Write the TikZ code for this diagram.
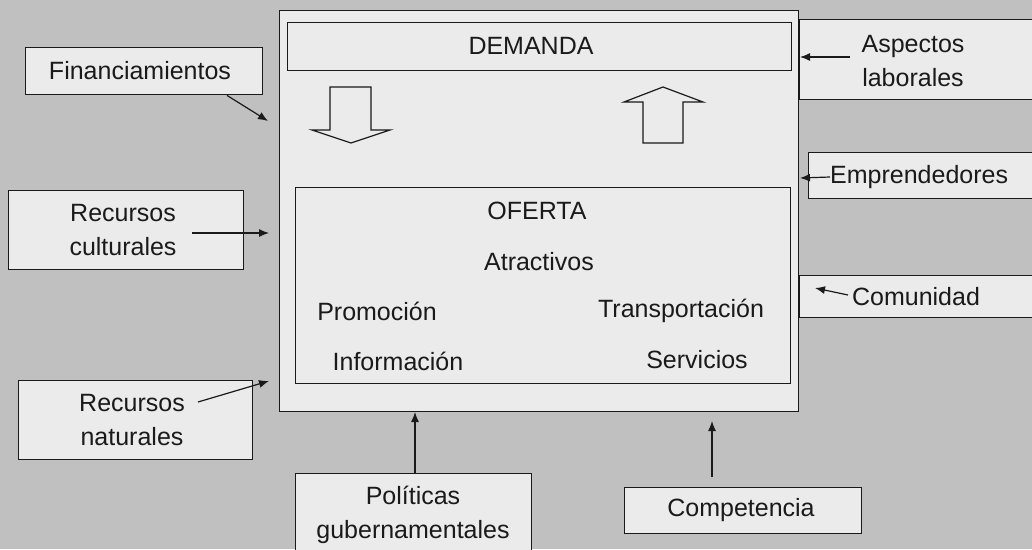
\documentclass[tikz,border=0pt]{standalone}
\usepackage{fontspec}
\setmainfont{Liberation Sans}
\usetikzlibrary{arrows.meta}
\definecolor{bg}{HTML}{C0C0C0}
\definecolor{bf}{HTML}{EBEBEB}
\definecolor{ln}{HTML}{1A1A1A}
\begin{document}
\begin{tikzpicture}[x=1pt,y=-1pt,
  bx/.style={draw=ln, fill=bf, line width=1.4pt, rectangle, inner sep=0pt, anchor=north west},
  tx/.style={font=\fontsize{25}{34}\selectfont, align=center, inner sep=0pt, text=ln},
  ar/.style={draw=ln, line width=1.2pt, -{Latex[length=10pt,width=8pt]}},
  blk/.style={draw=ln, fill=bf, line width=1.2pt, line join=miter}]
\useasboundingbox (0,0) rectangle (1032,549);
\fill[bg] (0,0) rectangle (1032,549);
% boxes
\node[bx, minimum width=519pt, minimum height=401pt] (main) at (279,10) {};
\node[bx, minimum width=504pt, minimum height=48pt] (dem) at (287,22) {};
\node[bx, minimum width=495pt, minimum height=196pt] (ofe) at (295,187) {};
\node[bx, minimum width=237pt, minimum height=47pt] (fin) at (25,47) {};
\node[bx, minimum width=235pt, minimum height=79pt] (cul) at (8,190) {};
\node[bx, minimum width=234pt, minimum height=79pt] (nat) at (18,380) {};
\node[bx, minimum width=245pt, minimum height=80pt] (asp) at (799,19) {};
\node[bx, minimum width=236pt, minimum height=46pt] (emp) at (808,152) {};
\node[bx, minimum width=245pt, minimum height=42pt] (com) at (799,275) {};
\node[bx, minimum width=236pt, minimum height=90pt] (pol) at (295,473) {};
\node[bx, minimum width=237pt, minimum height=46pt] (cmp) at (624,487) {};
% block arrows
\draw[blk] (330,87) -- (371,87) -- (371,130) -- (390,130) -- (351,143) -- (312,130) -- (330,130) -- cycle;
\draw[blk] (643,143) -- (683,143) -- (683,102) -- (703,102) -- (663,87) -- (624,102) -- (643,102) -- cycle;
% texts
\node[tx] (tdem) at (531,46) {DEMANDA};
\node[tx] (tfin) at (140,71) {Financiamientos};
\node[tx] (tcul) at (123,230) {Recursos\\culturales};
\node[tx] (tnat) at (132,420) {Recursos\\naturales};
\node[tx] (tasp) at (913,61) {Aspectos\\laborales};
\node[tx, anchor=west] (temp) at (830,177) {Emprendedores};
\node[tx] (tcom) at (916,297) {Comunidad};
\node[tx] (tpol) at (413,515) {Políticas\\gubernamentales};
\node[tx] (tcmp) at (741,510) {Competencia};
\node[tx] (tofe) at (537,211) {OFERTA};
\node[tx] (tatr) at (539,262) {Atractivos};
\node[tx] (tpro) at (377,311) {Promoción};
\node[tx] (tinf) at (398,361) {Información};
\node[tx] (ttra) at (681,311) {Transportación};
\node[tx] (tser) at (697,360) {Servicios};
% connector ends
\coordinate (efin) at (268,121);
\coordinate (ecul) at (269,233);
\coordinate (enat) at (269,381);
\coordinate (easp) at (800,57);
\coordinate (eemp) at (800,178);
\coordinate (ecom) at (815,288);
\coordinate (epol) at (415,412);
\coordinate (ecmp) at (712,421);
\coordinate (scul) at (192,233);
\coordinate (snat) at (198,402);
\coordinate (sasp) at (850,57);
\coordinate (scom) at (848,295);
\coordinate (scmp) at (712,477);
% connectors
\draw[ar] (fin.south west) ++(202,0) coordinate (sfin) -- (efin);
\draw[ar] (scul) -- (ecul);
\draw[ar] (snat) -- (enat);
\draw[ar] (sasp) -- (easp);
\draw[ar] (temp.west) -- (eemp);
\draw[ar] (scom) -- (ecom);
\draw[ar] (pol.north -| epol) -- (epol);
\draw[ar] (scmp) -- (ecmp);
\end{tikzpicture}
\end{document}
